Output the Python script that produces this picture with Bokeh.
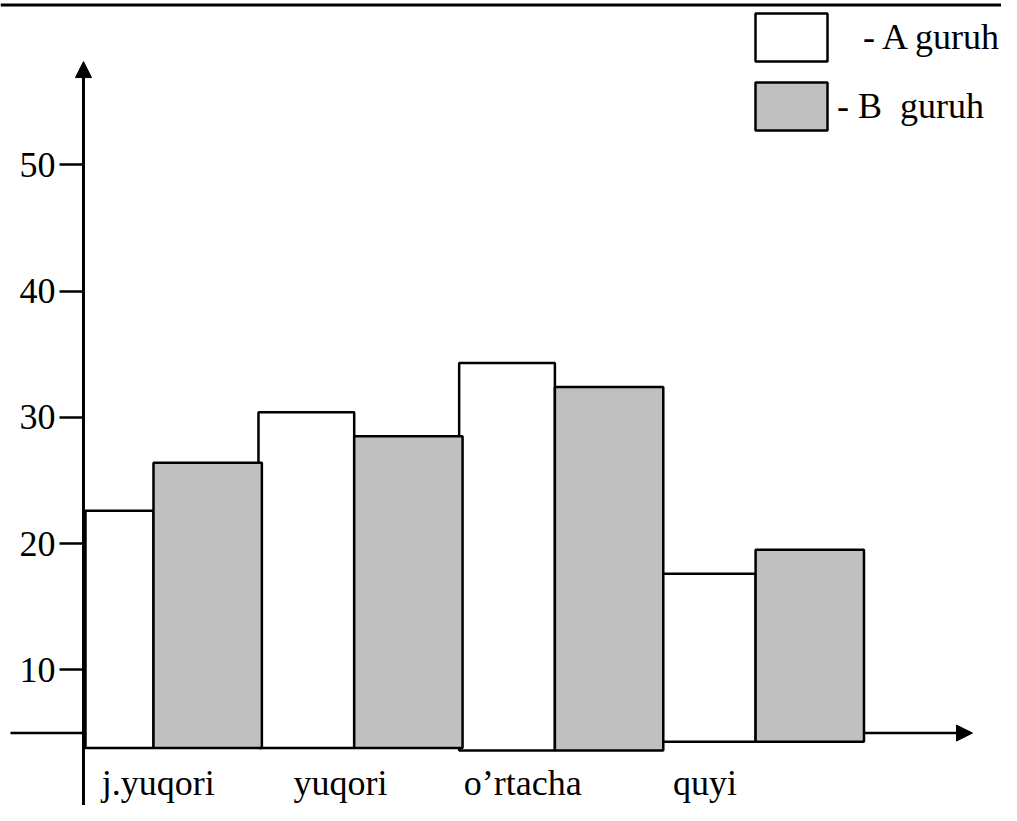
from bokeh.plotting import figure
from bokeh.models import (Range1d, LinearAxis, FixedTicker, Arrow, NormalHead,
                          Legend, LegendItem, Span, ColumnDataSource)
from bokeh.embed import file_html
from bokeh.resources import INLINE

# ---- data ----
categories = ["j.yuqori", "yuqori", "o\u2019rtacha", "quyi"]
group_a = [22.6, 30.4, 34.3, 17.6]
group_b = [26.4, 28.5, 32.4, 19.5]
bar_base = [3.8, 3.8, 3.6, 4.3]
y_ticks = [10, 20, 30, 40, 50]
series_names = ["- A guruh", "- B  guruh"]

# ---- layout / style ----
W, H = 1001, 805
FONT = "Liberation Serif"
X0, X1 = -0.7623, 4.2252
Y0, Y1 = -0.76, 63.03
YAXIS_X = -0.3488
XAXIS_Y = 4.98
WA, WB = 0.477, 0.54
LBL_OFF, LBL_PITCH = 0.024, 0.908

p = figure(width=W, height=H, x_range=Range1d(X0, X1), y_range=Range1d(Y0, Y1),
           output_backend="svg", toolbar_location=None,
           x_axis_location=None, y_axis_location=None, min_border=0)
p.outline_line_color = None
p.background_fill_color = "white"
p.border_fill_color = "white"
for g in p.grid:
    g.visible = False

n = len(categories)
src_a = ColumnDataSource(dict(
    left=[max(i - WA, YAXIS_X + 0.01) for i in range(n)],
    right=[i for i in range(n)],
    bottom=bar_base, top=group_a))
src_b = ColumnDataSource(dict(
    left=[i for i in range(n)],
    right=[i + WB for i in range(n)],
    bottom=bar_base, top=group_b))

# x axis line (under the bars)
p.add_layout(Arrow(x_start=-0.7125, y_start=XAXIS_Y, x_end=4.0807, y_end=XAXIS_Y,
                   line_width=2.5, line_color="black", level="underlay",
                   end=NormalHead(size=16, fill_color="black", line_color="black")))

ra = p.quad(left="left", right="right", bottom="bottom", top="top", source=src_a,
            fill_color="white", line_color="black", line_width=2.5)
rb = p.quad(left="left", right="right", bottom="bottom", top="top", source=src_b,
            fill_color="#c0c0c0", line_color="black", line_width=2.5)

# y axis
yaxis = LinearAxis(fixed_location=YAXIS_X, ticker=FixedTicker(ticks=y_ticks))
yaxis.axis_line_color = None
yaxis.major_tick_out = 24
yaxis.major_tick_in = 0
yaxis.major_tick_line_width = 2.5
yaxis.major_tick_line_color = "black"
yaxis.minor_tick_line_color = None
yaxis.major_label_standoff = 4
yaxis.major_label_text_font = FONT
yaxis.major_label_text_font_size = "36px"
yaxis.major_label_text_color = "black"
p.add_layout(yaxis, "left")
p.add_layout(Arrow(x_start=YAXIS_X, y_start=Y0, x_end=YAXIS_X, y_end=58.19,
                   line_width=3, line_color="black",
                   end=NormalHead(size=16, fill_color="black", line_color="black")))

# x axis labels
lbl_ticks = [LBL_OFF + LBL_PITCH * i for i in range(n)]
xaxis = LinearAxis(fixed_location=XAXIS_Y, ticker=FixedTicker(ticks=lbl_ticks),
                   major_label_overrides={t: c for t, c in zip(lbl_ticks, categories)})
xaxis.axis_line_color = None
xaxis.major_tick_line_color = None
xaxis.minor_tick_line_color = None
xaxis.major_tick_out = 0
xaxis.major_tick_in = 0
xaxis.major_label_standoff = 30
xaxis.major_label_text_font = FONT
xaxis.major_label_text_font_size = "36px"
xaxis.major_label_text_color = "black"
p.add_layout(xaxis, "below")

# top rule of the table above
p.add_layout(Span(location=62.67, dimension="width", line_color="black", line_width=3))

# legend (two separate blocks, as in the picture)
def make_legend(label, r, loc, standoff):
    return Legend(items=[LegendItem(label=label, renderers=[r])], location=loc,
                  glyph_width=90, glyph_height=60, label_standoff=standoff,
                  padding=0, margin=0, spacing=0, border_line_color=None,
                  background_fill_alpha=0, label_text_font=FONT,
                  label_text_font_size="36px", label_text_color="black",
                  label_text_baseline="alphabetic")

p.add_layout(make_legend(series_names[0], ra, (746, 738), 27))
p.add_layout(make_legend(series_names[1], rb, (746, 669), 1))

open("out.html", "w").write(file_html(p, INLINE))
